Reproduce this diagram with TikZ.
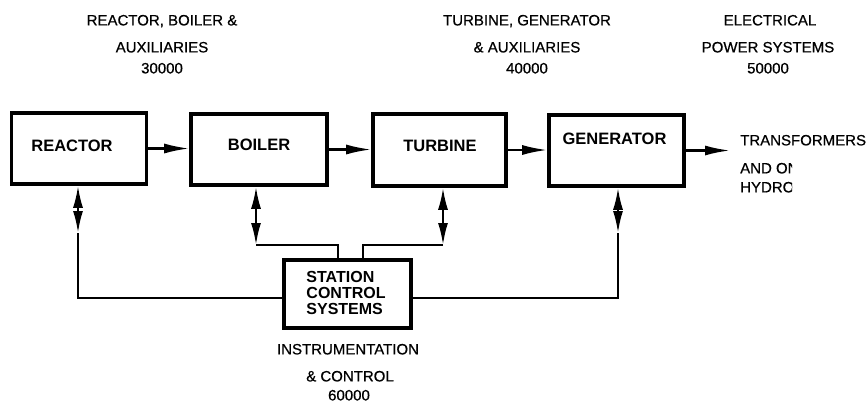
\documentclass[tikz,border=0pt]{standalone}
\usepackage{fontspec}
\setmainfont{Liberation Sans}
\newfontfamily\medfont[FakeBold=0.6]{Liberation Sans}
\usetikzlibrary{arrows.meta}
\begin{document}
\begin{tikzpicture}[x=1pt,y=-1pt,
  box/.style={draw,line width=3.6pt,inner sep=0pt},
  boxlbl/.style={font=\fontsize{16.5}{18}\selectfont\bfseries,inner sep=0pt},
  lbl/.style={font=\fontsize{15}{18}\selectfont\medfont,inner sep=0pt,anchor=base},
  conn/.style={line width=2.2pt},
  arr/.style={conn,-{Latex[length=25pt,width=10pt]}},
  dbl/.style={conn,{Latex[length=22pt,width=10pt]}-{Latex[length=22pt,width=10pt]}}]
\useasboundingbox (0,0) rectangle (866,405);

% boxes
\node[box,minimum width=135pt,minimum height=71pt] (reactor) at (79,148.5) {};
\node[box,minimum width=136pt,minimum height=71pt] (boiler) at (259,149.5) {};
\node[box,minimum width=133pt,minimum height=72pt] (turbine) at (439.5,150) {};
\node[box,minimum width=135pt,minimum height=71pt] (generator) at (616.5,150.5) {};
\node[box,minimum width=127pt,minimum height=68pt] (station) at (347.5,294) {};

% box labels
\node[boxlbl] (reactorT) at (72,146) {REACTOR};
\node[boxlbl] (boilerT) at (259,145) {BOILER};
\node[boxlbl] (turbineT) at (440,146) {TURBINE};
\node[boxlbl] (generatorT) at (614.5,139) {GENERATOR};
\node[font=\fontsize{16}{16}\selectfont\bfseries,inner sep=0pt,align=left] (stationT) at (346,293) {STATION\\CONTROL\\SYSTEMS};

% top labels
\node[lbl] (a1) at (162,25.4) {REACTOR, BOILER \&};
\node[lbl] (a2) at (162,52.4) {AUXILIARIES};
\node[lbl] (a3) at (162,73.4) {30000};
\node[lbl] (b1t) at (527,25.4) {TURBINE, GENERATOR};
\node[lbl] (b2t) at (527,52.4) {\& AUXILIARIES};
\node[lbl] (b3t) at (527,73.4) {40000};
\node[lbl] (c1) at (770,25.4) {ELECTRICAL};
\node[lbl] (c2) at (768,52.4) {POWER SYSTEMS};
\node[lbl] (c3) at (768,73.4) {50000};

% bottom labels
\node[lbl] (d1) at (348,354.4) {INSTRUMENTATION};
\node[lbl] (d2) at (350,381.4) {\& CONTROL};
\node[lbl] (d3) at (349,400.4) {60000};

% right labels
\node[lbl,anchor=base west] (e1) at (740,145.4) {TRANSFORMERS};
\begin{scope}
\clip (735,150) rectangle (792,205);
\node[lbl,anchor=base west] (e2) at (740,173.4) {AND ONTARIO};
\node[lbl,anchor=base west] (e3) at (740,192.4) {HYDRO};
\end{scope}

% main flow
\coordinate (out) at (730,148);
\draw[arr] (reactor.east) -- (reactor.east -| boiler.west);
\draw[arr] (boiler.east) -- (boiler.east -| turbine.west);
\draw[arr] (turbine.east) -- (turbine.east -| generator.west);
\draw[arr] (generator.east) -- (generator.east -| out);

% control links
\coordinate (r1) at (78,233);
\coordinate (bb) at (256,245);
\coordinate (tt) at (443,245);
\coordinate (g1) at (618,233);
\draw[dbl] (reactor.south -| r1) -- (r1);
\draw[conn] (r1) |- (station.west |- 0,298);
\draw[dbl] (boiler.south -| bb) -- (bb);
\draw[conn] (bb) -| ([xshift=-9.5pt]station.north);
\draw[dbl] (turbine.south -| tt) -- (tt);
\draw[conn] (tt) -| ([xshift=15.5pt]station.north);
\draw[dbl] (generator.south -| g1) -- (g1);
\draw[conn] (g1) |- (station.east |- 0,298);
\end{tikzpicture}
\end{document}
